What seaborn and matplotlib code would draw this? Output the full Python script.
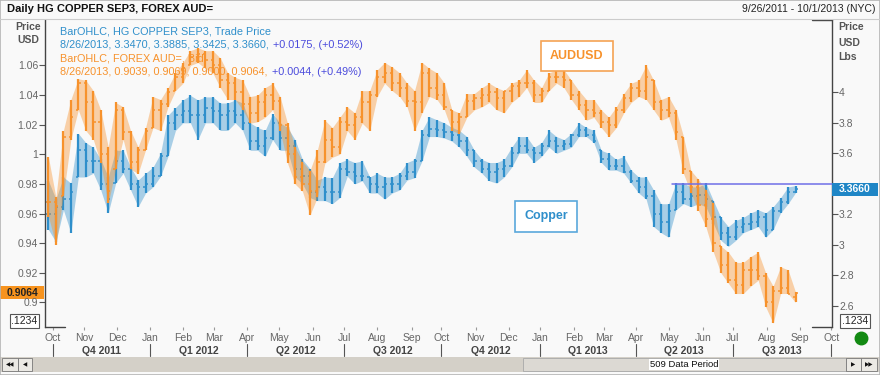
import numpy as np
import pandas as pd
import seaborn as sns
import matplotlib.pyplot as plt
from matplotlib.patches import Rectangle
from matplotlib.lines import Line2D
from matplotlib.transforms import IdentityTransform

# weekly bars (one bar per trading week)
week_start = pd.date_range('2011-09-26', '2013-08-26', freq='W-MON')

aud_high = [0.998, 0.971, 1.016, 1.037, 1.051, 1.050, 1.043, 1.030, 1.005, 1.035,
            1.032, 1.016, 1.005, 1.018, 1.039, 1.037, 1.045, 1.055, 1.062, 1.070,
            1.072, 1.070, 1.070, 1.065, 1.055, 1.052, 1.050, 1.039, 1.040, 1.045,
            1.048, 1.039, 1.021, 1.005, 0.995, 0.989, 1.003, 1.023, 1.018, 1.025,
            1.032, 1.028, 1.043, 1.043, 1.057, 1.062, 1.059, 1.055, 1.048, 1.043,
            1.062, 1.058, 1.055, 1.048, 1.030, 1.028, 1.041, 1.041, 1.045, 1.048,
            1.045, 1.043, 1.048, 1.050, 1.057, 1.050, 1.045, 1.055, 1.057, 1.057,
            1.050, 1.043, 1.037, 1.037, 1.030, 1.025, 1.032, 1.041, 1.048, 1.050,
            1.060, 1.050, 1.037, 1.039, 1.030, 1.012, 0.989, 0.983, 0.976, 0.967,
            0.938, 0.934, 0.927, 0.927, 0.931, 0.934, 0.920, 0.911, 0.924, 0.922,
            0.9069]
aud_low = [0.958, 0.939, 0.972, 1.010, 1.030, 1.016, 1.010, 0.994, 0.967, 0.990,
           1.010, 0.990, 0.987, 1.003, 1.018, 1.016, 1.032, 1.043, 1.048, 1.060,
           1.062, 1.058, 1.055, 1.045, 1.037, 1.037, 1.030, 1.021, 1.022, 1.025,
           1.030, 1.016, 0.994, 0.980, 0.975, 0.959, 0.971, 0.994, 0.998, 1.000,
           1.016, 1.010, 1.021, 1.016, 1.039, 1.048, 1.043, 1.039, 1.032, 1.016,
           1.028, 1.039, 1.037, 1.030, 1.016, 1.014, 1.025, 1.030, 1.032, 1.035,
           1.030, 1.028, 1.035, 1.039, 1.045, 1.035, 1.035, 1.043, 1.048, 1.045,
           1.037, 1.030, 1.023, 1.025, 1.018, 1.012, 1.018, 1.028, 1.035, 1.039,
           1.037, 1.030, 1.023, 1.025, 1.010, 0.987, 0.974, 0.962, 0.951, 0.934,
           0.920, 0.913, 0.906, 0.906, 0.911, 0.915, 0.897, 0.886, 0.906, 0.906,
           0.9000]
aud_close = [0.968, 0.965, 1.012, 1.025, 1.048, 1.035, 1.022, 1.000, 0.975, 1.030,
             1.015, 0.995, 1.003, 1.016, 1.030, 1.034, 1.042, 1.052, 1.058, 1.066,
             1.068, 1.064, 1.060, 1.050, 1.048, 1.042, 1.034, 1.028, 1.035, 1.040,
             1.036, 1.020, 1.000, 0.985, 0.980, 0.975, 0.995, 1.010, 1.005, 1.022,
             1.020, 1.025, 1.035, 1.040, 1.052, 1.055, 1.048, 1.045, 1.036, 1.035,
             1.055, 1.045, 1.040, 1.032, 1.022, 1.025, 1.036, 1.038, 1.040, 1.042,
             1.038, 1.043, 1.046, 1.048, 1.048, 1.040, 1.043, 1.052, 1.052, 1.050,
             1.040, 1.033, 1.030, 1.028, 1.022, 1.020, 1.030, 1.038, 1.045, 1.043,
             1.052, 1.035, 1.030, 1.028, 1.015, 0.990, 0.978, 0.966, 0.956, 0.940,
             0.925, 0.915, 0.912, 0.922, 0.922, 0.918, 0.900, 0.908, 0.910, 0.906,
             0.9064]
aud_last_open = 0.9039

cu_high = [3.42, 3.30, 3.445, 3.405, 3.73, 3.67, 3.64, 3.56, 3.445, 3.62,
           3.62, 3.51, 3.425, 3.47, 3.51, 3.60, 3.85, 3.90, 3.95, 3.98,
           3.95, 3.97, 3.97, 3.93, 3.93, 3.95, 3.93, 3.80, 3.77, 3.75,
           3.86, 3.80, 3.77, 3.69, 3.56, 3.50, 3.425, 3.445, 3.44, 3.54,
           3.56, 3.54, 3.55, 3.445, 3.47, 3.445, 3.445, 3.47, 3.54, 3.56,
           3.75, 3.84, 3.82, 3.80, 3.77, 3.75, 3.71, 3.62, 3.56, 3.54,
           3.54, 3.56, 3.64, 3.71, 3.71, 3.64, 3.67, 3.75, 3.71, 3.69,
           3.73, 3.80, 3.77, 3.75, 3.62, 3.60, 3.56, 3.58, 3.49, 3.445,
           3.445, 3.36, 3.27, 3.27, 3.405, 3.405, 3.38, 3.38, 3.405, 3.29,
           3.18, 3.12, 3.16, 3.18, 3.21, 3.23, 3.21, 3.25, 3.31, 3.38,
           3.3885]
cu_low = [3.10, 3.02, 3.23, 3.08, 3.445, 3.445, 3.47, 3.36, 3.21, 3.405,
          3.47, 3.36, 3.25, 3.34, 3.38, 3.45, 3.58, 3.75, 3.80, 3.80,
          3.69, 3.80, 3.80, 3.75, 3.75, 3.80, 3.75, 3.62, 3.62, 3.58,
          3.69, 3.62, 3.62, 3.445, 3.40, 3.31, 3.29, 3.29, 3.27, 3.31,
          3.45, 3.40, 3.42, 3.34, 3.34, 3.30, 3.34, 3.36, 3.425, 3.44,
          3.55, 3.71, 3.71, 3.70, 3.68, 3.64, 3.58, 3.51, 3.47, 3.42,
          3.405, 3.445, 3.51, 3.60, 3.60, 3.54, 3.58, 3.64, 3.60, 3.62,
          3.64, 3.71, 3.71, 3.67, 3.54, 3.49, 3.49, 3.47, 3.405, 3.34,
          3.30, 3.12, 3.08, 3.05, 3.23, 3.27, 3.25, 3.27, 3.25, 3.14,
          3.03, 2.99, 3.03, 3.08, 3.10, 3.12, 3.05, 3.10, 3.21, 3.27,
          3.3425]
cu_close = [3.20, 3.25, 3.30, 3.35, 3.62, 3.55, 3.55, 3.40, 3.30, 3.55,
            3.50, 3.40, 3.38, 3.40, 3.45, 3.58, 3.80, 3.85, 3.88, 3.85,
            3.85, 3.90, 3.88, 3.85, 3.88, 3.85, 3.80, 3.68, 3.65, 3.70,
            3.80, 3.70, 3.65, 3.50, 3.45, 3.35, 3.38, 3.35, 3.35, 3.50,
            3.48, 3.45, 3.45, 3.40, 3.38, 3.40, 3.40, 3.45, 3.48, 3.55,
            3.72, 3.76, 3.75, 3.74, 3.72, 3.68, 3.62, 3.55, 3.50, 3.48,
            3.50, 3.52, 3.60, 3.65, 3.62, 3.60, 3.65, 3.68, 3.65, 3.66,
            3.72, 3.75, 3.72, 3.68, 3.56, 3.52, 3.52, 3.48, 3.42, 3.38,
            3.32, 3.20, 3.15, 3.22, 3.35, 3.30, 3.32, 3.33, 3.30, 3.18,
            3.08, 3.05, 3.12, 3.14, 3.15, 3.18, 3.10, 3.22, 3.28, 3.35,
            3.3660]
cu_last_open = 3.3470
cu_line_level = 3.397   # horizontal line drawn across the last months

quarter_labels = ['Q4 2011', 'Q1 2012', 'Q2 2012', 'Q3 2012',
                  'Q4 2012', 'Q1 2013', 'Q2 2013', 'Q3 2013']
aud_ticks = [0.9, 0.92, 0.94, 0.96, 0.98, 1.0, 1.02, 1.04, 1.06]
aud_ticklabels = ['0.9', '0.92', '0.94', '0.96', '0.98', '1', '1.02', '1.04', '1.06']
cu_ticks = [2.6, 2.8, 3.0, 3.2, 3.4, 3.6, 3.8, 4.0]
cu_ticklabels = ['2.6', '2.8', '3', '3.2', '', '3.6', '3.8', '4']  # 3.4 sits under the last-value box

ORANGE = '#f7922c'
BLUE = '#2f8fcb'
PURPLE = '#4b4bdc'
GRAY = '#555555'

sns.set_theme(style='white')
plt.rcParams['font.family'] = ['Liberation Sans', 'DejaVu Sans']

W, H = 880, 375
fig = plt.figure(figsize=(W / 100, H / 100), dpi=100, facecolor='#f9f9f9')


def fx(px):
    return px / W


def fy(py):
    return 1 - py / H


ax = fig.add_axes([fx(45), fy(327), fx(787), 307 / H])
ax2 = ax.twinx()
ax.set_zorder(ax2.get_zorder() + 1)
ax.patch.set_visible(False)
ax2.patch.set_visible(False)

# trading-day axis
days = pd.bdate_range('2011-09-26', '2013-10-01')
xpos = days.get_indexer(week_start) + 2


def draw_ohlc(a, lo, hi, cl, last_open, color):
    lo, hi, cl = np.array(lo), np.array(hi), np.array(cl)
    op = np.clip(np.r_[cl[0], cl[:-1]], lo, hi)
    op[-1] = last_open
    # light range band behind the weekly bars, to give the dense look of daily bars
    a.fill_between(xpos, lo, hi, color=color, alpha=0.4, lw=0)
    a.vlines(xpos, lo, hi, color=color, lw=1.6)
    a.hlines(op, xpos - 1.5, xpos, color=color, lw=1.1)
    a.hlines(cl, xpos, xpos + 1.5, color=color, lw=1.1)


draw_ohlc(ax2, cu_low, cu_high, cu_close, cu_last_open, BLUE)
draw_ohlc(ax, aud_low, aud_high, aud_close, aud_last_open, ORANGE)

ax.set_xlim(-0.3, len(days) - 0.6)
ax.set_ylim(0.8834, 1.0907)
ax2.set_ylim(2.462, 4.474)

# horizontal line at last copper level area
x_line0 = days.get_indexer(pd.to_datetime(['2013-05-01']))[0] + 2
ax.plot([x_line0, len(days) - 0.6], [cu_line_level, cu_line_level],
        transform=ax2.transData, color='#6f6fe8', lw=1.1, zorder=5, clip_on=False)

# y axes
ax.set_yticks(aud_ticks)
ax.set_yticklabels(aud_ticklabels)
ax2.set_yticks(cu_ticks)
ax2.set_yticklabels(cu_ticklabels)
ax.tick_params(axis='y', direction='out', length=4, width=0.8, color=GRAY,
               labelsize=7.5, labelcolor='#666666', pad=1, left=True)
ax2.tick_params(axis='y', direction='out', length=4, width=0.8, color=GRAY,
                labelsize=7.5, labelcolor='#666666', pad=1, right=True)

for a in (ax, ax2):
    for s in a.spines.values():
        s.set_visible(False)
ax.spines['left'].set_visible(True)
ax.spines['left'].set_color('#444444')
ax.spines['left'].set_linewidth(1.0)
ax2.spines['right'].set_visible(True)
ax2.spines['right'].set_color('#444444')
ax2.spines['right'].set_linewidth(1.0)
for xs, ys in (([0, 0.025], [0, 0]), ([0.975, 1], [1, 1]), ([0.975, 1], [0, 0])):
    ax.plot(xs, ys, transform=ax.transAxes, clip_on=False, color='#444444', lw=1.0)

# x axis: month ticks + quarter bands
month_starts = pd.date_range('2011-10-01', '2013-10-01', freq='BMS')
month_pos = days.get_indexer(month_starts)
ax.set_xticks(month_pos)
ax.set_xticklabels([d.strftime('%b') for d in month_starts])
ax.tick_params(axis='x', direction='out', length=2.5, width=0.8, color='#999999',
               labelsize=7.5, labelcolor='#666666', pad=1.5, bottom=True)
ax2.tick_params(axis='x', bottom=False, labelbottom=False)

q_pos = month_pos[::3]
xt = ax.get_xaxis_transform()
for p in q_pos:
    ax.plot([p, p], [-0.055, -0.095], transform=xt, clip_on=False, color=GRAY, lw=0.8)
for lab, p0, p1 in zip(quarter_labels, q_pos[:-1], q_pos[1:]):
    ax.text((p0 + p1) / 2, -0.078, lab, transform=xt, ha='center', va='center',
            fontsize=7.5, fontweight='bold', color='#444444')

# header
fig.add_artist(Line2D([0, 1], [fy(19), fy(19)], color='#cccccc', lw=0.8))
fig.text(fx(7), fy(9.5), 'Daily HG COPPER SEP3, FOREX AUD=', fontsize=8,
         fontweight='bold', color='#111111', va='center')
fig.text(fx(875), fy(9.5), '9/26/2011 - 10/1/2013 (NYC)', fontsize=7.5,
         color='#222222', va='center', ha='right')

for txt, py in (('Price', 27), ('USD', 40)):
    fig.text(fx(28), fy(py), txt, fontsize=7.5, fontweight='bold', color=GRAY,
             ha='center', va='center')
for txt, py in (('Price', 27.5), ('USD', 42.5), ('Lbs', 57)):
    fig.text(fx(838), fy(py), txt, fontsize=7.5, fontweight='bold', color=GRAY,
             ha='left', va='center')

# legend lines
r = fig.canvas.get_renderer()
legend_rows = [
    ('BarOHLC, HG COPPER SEP3, Trade Price', None, BLUE, 31),
    ('8/26/2013, 3.3470, 3.3885, 3.3425, 3.3660,', '+0.0175, (+0.52%)', BLUE, 44.5),
    ('BarOHLC, FOREX AUD=, Bid', None, ORANGE, 58.5),
    ('8/26/2013, 0.9039, 0.9069, 0.9000, 0.9064,', '+0.0044, (+0.49%)', ORANGE, 72),
]
for first, second, col, py in legend_rows:
    t = fig.text(fx(60), fy(py), first, fontsize=7.8, color=col, va='center', zorder=6)
    if second:
        bb = t.get_window_extent(r)
        fig.text((bb.x1 + 4) / W, fy(py), second, fontsize=7.8, color=PURPLE,
                 va='center', zorder=6)

# series name boxes
fig.text(fx(577), fy(56), 'AUDUSD', fontsize=9, fontweight='bold', color=ORANGE,
         ha='center', va='center',
         bbox=dict(boxstyle='square,pad=0.75', fc='white', ec='#f5a354', lw=1.2))
fig.text(fx(546), fy(216.5), 'Copper', fontsize=9, fontweight='bold', color=BLUE,
         ha='center', va='center',
         bbox=dict(boxstyle='square,pad=0.75', fc='white', ec='#5aa8dc', lw=1.2))

# last value markers on the axes
fig.canvas.draw()
y_aud = ax.transData.transform((0, aud_close[-1]))[1]
y_cu = ax2.transData.transform((0, cu_close[-1]))[1]
fig.add_artist(Rectangle((0, y_aud - 6.5), 44, 13, transform=IdentityTransform(),
                         fc='#f7931e', ec='none'))
fig.text(22 / W, y_aud / H, '0.9064', fontsize=7.5, fontweight='bold', color='#222222',
         ha='center', va='center')
fig.add_artist(Rectangle((832, y_cu - 6.5), 46, 13, transform=IdentityTransform(),
                         fc='#1f86c6', ec='none', zorder=5))
fig.text(855 / W, y_cu / H, '3.3660', fontsize=7.5, fontweight='bold', color='white',
         ha='center', va='center', zorder=6)

for cx in (24.5, 855):
    fig.text(fx(cx), fy(321), '.1234', fontsize=7.5, color='#222222', ha='center',
             va='center', bbox=dict(boxstyle='square,pad=0.15', fc='white',
                                    ec='#555555', lw=0.8))

# status dot
fig.add_artist(Line2D([fx(861)], [fy(338)], marker='o', ms=9, color='#138a13', lw=0))

# scroll bar
fig.add_artist(Rectangle((0, fy(372)), 1, 15 / H, transform=fig.transFigure,
                         fc='#d4d0c8', ec='none'))
fig.add_artist(Rectangle((fx(523), fy(371)), fx(846 - 523), 13 / H,
                         transform=fig.transFigure, fc='#dcd9d3', ec='#a8a8a8', lw=0.6))
fig.text(fx(684), fy(364.5), '509 Data Period', fontsize=6.8, color='#111111',
         ha='center', va='center',
         bbox=dict(boxstyle='square,pad=0.1', fc='white', ec='none'))
for x0, x1, glyph in ((2, 18, '◀◀'), (18, 32, '◀'), (846, 861, '▶'), (861, 877, '▶▶')):
    fig.add_artist(Rectangle((fx(x0), fy(371)), fx(x1 - x0), 13 / H,
                             transform=fig.transFigure, fc='#ebe9e4', ec='#777777', lw=0.6))
    fig.text(fx((x0 + x1) / 2), fy(364.5), glyph, fontsize=4, color='#111111',
             ha='center', va='center', family=['DejaVu Sans'])

fig.add_artist(Rectangle((0, 0), 1, 1, transform=fig.transFigure, fill=False,
                         ec='#b5b5b5', lw=1.2))

fig.savefig('out.png', dpi=100, facecolor=fig.get_facecolor())
